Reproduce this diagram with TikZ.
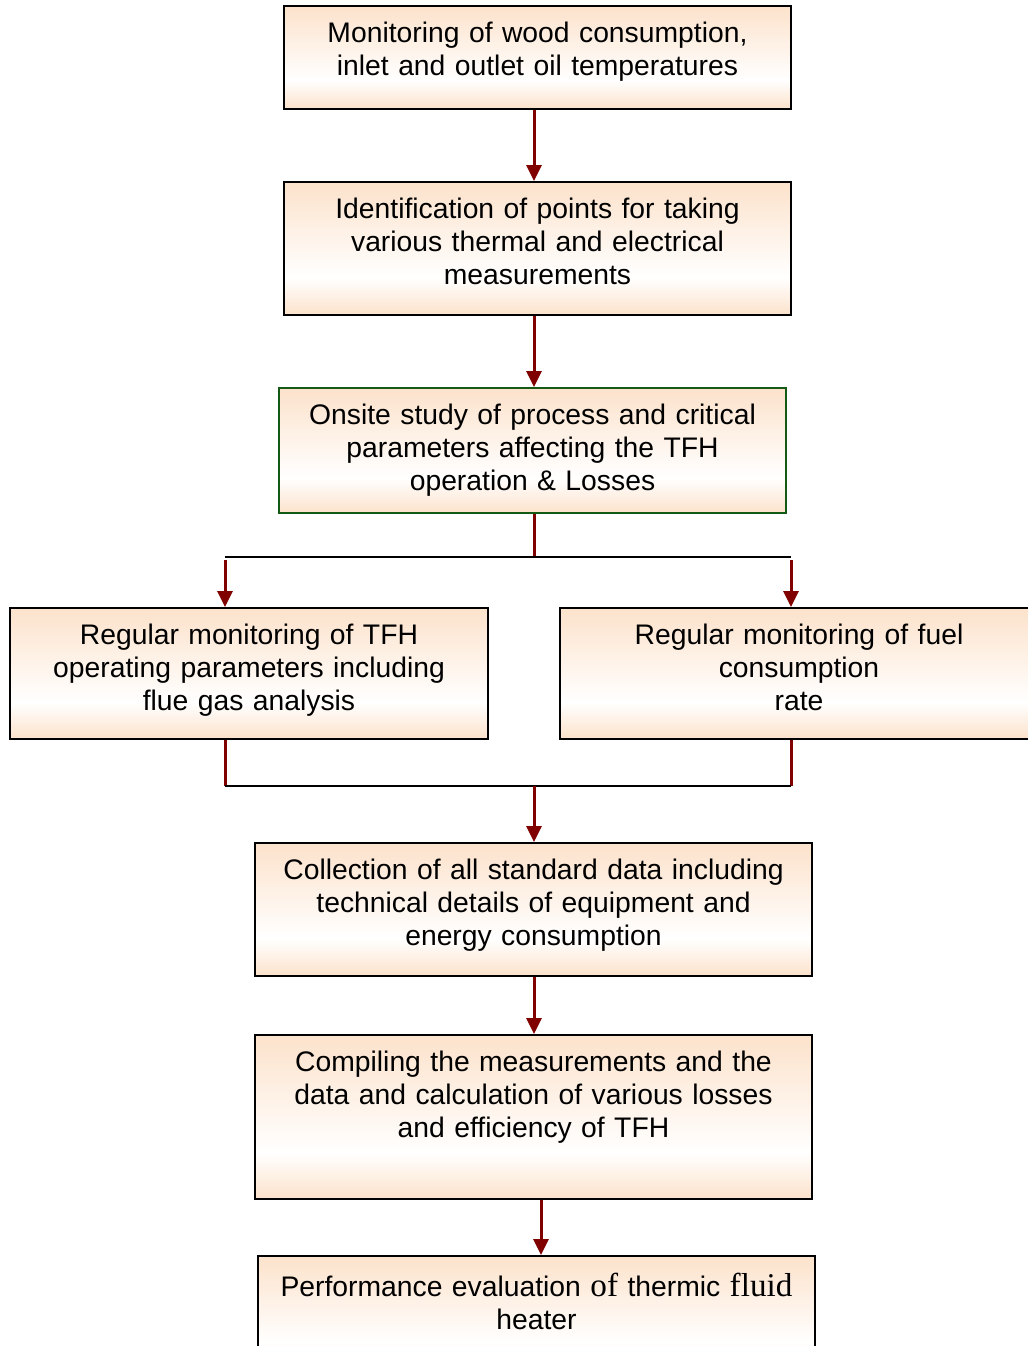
\documentclass[tikz,border=0pt]{standalone}
\usepackage{fontspec}
\setmainfont{Liberation Sans}
\newfontfamily\timesfont{Liberation Serif}
\usetikzlibrary{arrows.meta}
\definecolor{arrowred}{RGB}{128,0,0}
\definecolor{peach}{RGB}{252,226,203}
\definecolor{boxgreen}{RGB}{20,90,20}
\pgfdeclareverticalshading{peachfade}{100bp}{color(0bp)=(peach); color(25bp)=(peach); color(39bp)=(white); color(75bp)=(peach); color(100bp)=(peach)}
\tikzset{
  pbox/.style={draw, line width=0.8pt, anchor=north, inner sep=0pt, align=center, shading=peachfade, text height=18.5pt, font=\fontsize{14.15}{16.5}\selectfont},
  arr/.style={draw=arrowred, line width=1.5pt, -{Triangle[length=8pt,width=7.5pt]}},
  redline/.style={draw=arrowred, line width=1.5pt},
  joinline/.style={draw=black, line width=1pt}
}
\newcommand{\serifword}[1]{{\timesfont\fontsize{16.6}{16.5}\selectfont #1}}
\begin{document}
\begin{tikzpicture}[x=0.5pt, y=-0.5pt]
\useasboundingbox (0,0) rectangle (1028,1346);
% boxes
\node[pbox, text width=253.5pt, text depth=33pt] (wood) at (537.5,5) {Monitoring of wood consumption,\\ inlet and outlet oil temperatures};
\node[pbox, text width=253.5pt, text depth=48pt] (ident) at (537.5,181) {Identification of points for taking\\ various thermal and electrical\\ measurements};
\node[pbox, draw=boxgreen, text width=253.5pt, text depth=44pt] (onsite) at (532.5,387) {Onsite study of process and critical\\ parameters affecting the TFH\\ operation \& Losses};
\node[pbox, text width=239pt, text depth=47pt] (tfh) at (249,607) {Regular monitoring of TFH\\ operating parameters including\\ flue gas analysis};
\node[pbox, text width=239pt, text depth=47pt] (fuel) at (799,607) {Regular monitoring of fuel\\ consumption\\ rate};
\node[pbox, text width=278.5pt, text depth=48pt] (collect) at (533.5,842) {Collection of all standard data including\\ technical details of equipment and\\ energy consumption};
\node[pbox, text width=278.5pt, text depth=63.5pt] (compile) at (533.5,1034) {Compiling the measurements and the\\ data and calculation of various losses\\ and efficiency of TFH};
\node[pbox, text width=278.5pt, text height=20.5pt, text depth=40pt] (perf) at (536.5,1255) {Performance evaluation \serifword{of} thermic \serifword{fluid}\\ heater};
% connector lanes
\coordinate (mid) at (534,0);
\coordinate (midb) at (541,0);
\coordinate (lft) at (225,0);
\coordinate (rgt) at (791,0);
\coordinate (split) at (0,557);
\coordinate (splitlow) at (0,560);
\coordinate (merge) at (0,786);
% connectors
\draw[arr] (wood.south -| mid) -- (ident.north -| mid);
\draw[arr] (ident.south -| mid) -- (onsite.north -| mid);
\draw[redline] (onsite.south -| mid) -- (split -| mid);
\draw[joinline] (split -| lft) -- (split -| rgt);
\draw[arr] (splitlow -| lft) -- (tfh.north -| lft);
\draw[arr] (splitlow -| rgt) -- (fuel.north -| rgt);
\draw[redline] (tfh.south -| lft) -- (merge -| lft);
\draw[redline] (fuel.south -| rgt) -- (merge -| rgt);
\draw[joinline] (merge -| lft) -- (merge -| rgt);
\draw[arr] (merge -| mid) -- (collect.north -| mid);
\draw[arr] (collect.south -| mid) -- (compile.north -| mid);
\draw[arr] (compile.south -| midb) -- (perf.north -| midb);
\end{tikzpicture}
\end{document}
